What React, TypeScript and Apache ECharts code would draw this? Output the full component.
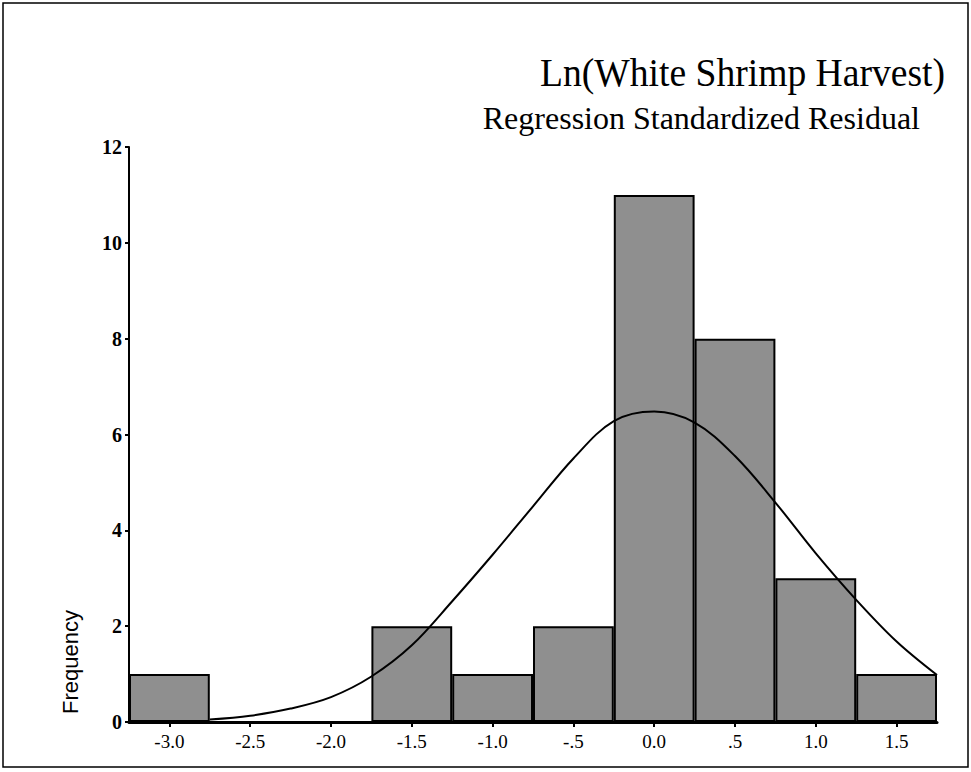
import React, { useEffect, useRef } from "react";
import * as echarts from "echarts";

const binLabels = ["-3.0", "-2.5", "-2.0", "-1.5", "-1.0", "-.5", "0.0", ".5", "1.0", "1.5"];
const frequencies = [1, 0, 0, 2, 1, 2, 11, 8, 3, 1];
const yTicks = [0, 2, 4, 6, 8, 10, 12];

const curveX = [-2.75, -2.5, -2.25, -2.0, -1.75, -1.5, -1.25, -1.0, -0.75, -0.5, -0.25, 0.0, 0.25, 0.5, 0.75, 1.0, 1.25, 1.5, 1.75];
const curveY = [0.05, 0.13, 0.28, 0.52, 0.95, 1.6, 2.52, 3.49, 4.5, 5.5, 6.28, 6.48, 6.25, 5.55, 4.58, 3.52, 2.55, 1.68, 0.98];

export default function App() {
  const ref = useRef<HTMLDivElement>(null);
  useEffect(() => {
    if (!ref.current) return;
    const chart = echarts.init(ref.current, undefined, { renderer: "svg" });
    const serif = "'Liberation Serif', 'Times New Roman', serif";
    chart.setOption({
      animation: false,
      backgroundColor: "#fff",
      graphic: [
        {
          type: "rect",
          shape: { x: 3, y: 3, width: 965, height: 764 },
          style: { fill: "none", stroke: "#000", lineWidth: 1.5 },
          silent: true,
        },
        {
          type: "text",
          x: 945,
          y: 72,
          scaleX: 0.94,
          style: {
            text: "Ln(White Shrimp Harvest)",
            font: "40px " + serif,
            fill: "#000",
            align: "right",
            verticalAlign: "middle",
          },
        },
        {
          type: "text",
          x: 920,
          y: 118,
          style: {
            text: "Regression Standardized Residual",
            font: "32px " + serif,
            fill: "#000",
            align: "right",
            verticalAlign: "middle",
          },
        },
        {
          type: "text",
          x: 70,
          y: 662,
          rotation: Math.PI / 2,
          style: {
            text: "Frequency",
            font: "22px 'Liberation Sans', Arial, sans-serif",
            fill: "#000",
            align: "center",
            verticalAlign: "middle",
          },
        },
      ],
      grid: { left: 129, right: 34, top: 147, bottom: 50 },
      xAxis: [
        {
          type: "category",
          data: binLabels,
          boundaryGap: true,
          axisLine: { show: true, lineStyle: { color: "#000", width: 3 } },
          axisTick: { show: true, alignWithLabel: true, length: 5, lineStyle: { color: "#000", width: 2 } },
          axisLabel: { fontFamily: serif, fontSize: 19, color: "#000", margin: 10 },
          splitLine: { show: false },
        },
        {
          type: "value",
          min: -3.25,
          max: 1.75,
          show: false,
        },
      ],
      yAxis: {
        type: "value",
        min: 0,
        max: 12,
        interval: 2,
        axisLine: { show: true, onZero: false, lineStyle: { color: "#000", width: 2 } },
        axisTick: { show: true, length: 4, lineStyle: { color: "#000", width: 2 } },
        axisLabel: {
          fontFamily: serif,
          fontSize: 20,
          fontWeight: "bold",
          color: "#000",
          margin: 7,
          formatter: (v: number) => (yTicks.includes(v) ? String(v) : ""),
        },
        splitLine: { show: false },
      },
      series: [
        {
          type: "bar",
          xAxisIndex: 0,
          data: frequencies,
          barWidth: "100%",
          barGap: "0%",
          itemStyle: { color: "#8f8f8f", borderColor: "#000", borderWidth: 2 },
          z: 2,
        },
        {
          type: "line",
          xAxisIndex: 1,
          data: curveX.map((x, i) => [x, curveY[i]]),
          smooth: 0.35,
          symbol: "none",
          lineStyle: { color: "#000", width: 2 },
          z: 3,
        },
      ],
    });
    return () => chart.dispose();
  }, []);
  return (
    <div
      ref={ref}
      style={{ position: "absolute", left: 0, top: 0, width: 971, height: 772 }}
    />
  );
}
